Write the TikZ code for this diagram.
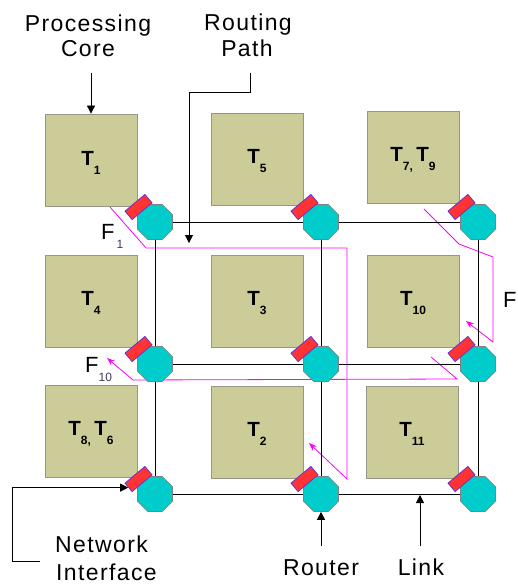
\documentclass[tikz,border=0pt]{standalone}
\usepackage{fontspec}
\setmainfont{Liberation Sans}
\newfontfamily\lblfont{Liberation Sans}[LetterSpace=6]
\usetikzlibrary{shapes.geometric,arrows.meta}
\definecolor{corefill}{RGB}{204,204,153}
\definecolor{coreline}{RGB}{150,150,135}
\definecolor{rtfill}{RGB}{0,204,204}
\definecolor{rtline}{RGB}{128,128,128}
\definecolor{nifill}{RGB}{255,51,51}
\definecolor{niline}{RGB}{102,51,204}
\definecolor{flow}{RGB}{255,0,255}
\definecolor{subcol}{RGB}{60,60,90}
\newcommand{\Tsub}[1]{\raisebox{-9pt}{\fontsize{12}{12}\selectfont\bfseries #1}}
\newcommand{\Fsub}[1]{\raisebox{-9pt}{\fontsize{12}{12}\selectfont\color{subcol}#1}}
\begin{document}
\begin{tikzpicture}[x=1pt,y=-1pt,
  core/.style={draw=coreline, fill=corefill, minimum width=92pt, minimum height=92pt, inner sep=0pt, line width=0.8pt},
  tl/.style={anchor=base, inner sep=0pt, font=\fontsize{20.5}{20}\selectfont\bfseries},
  router/.style={regular polygon, regular polygon sides=8, shape border rotate=0, minimum size=37.9pt, inner sep=0pt, fill=rtfill, draw=rtline, line width=0.6pt},
  ni/.style={draw=niline, fill=nifill, minimum width=26pt, minimum height=11pt, inner sep=0pt, rotate=40, line width=0.8pt},
  link/.style={black, line width=0.8pt},
  flowarrow/.style={flow, line width=0.8pt, -{Stealth[length=8pt,width=6pt]}},
  lbl/.style={inner sep=0pt, font=\lblfont\fontsize{23}{25}\selectfont},
  flbl/.style={anchor=base west, inner sep=0pt, font=\fontsize{22}{22}\selectfont},
  ptr/.style={black, line width=0.8pt, -{Triangle[length=8pt,width=8pt]}}
]
\useasboundingbox (0,0) rectangle (517,585);

% flow paths (behind everything)
\coordinate (f1a) at (110,207);
\coordinate (f1b) at (146,248);
\coordinate (f1c) at (347,248);
\coordinate (f1d) at (347,479);
\coordinate (f1e) at (309,443);
\draw[flowarrow] (f1a) -- (f1b) -- (f1c) -- (f1d) -- (f1e);
\coordinate (f10a) at (431,357);
\coordinate (f10b) at (457,379);
\coordinate (f10c) at (133,380);
\coordinate (f10d) at (107,358);
\draw[flowarrow] (f10a) -- (f10b) -- (f10c) -- (f10d);
\coordinate (fa) at (424,209);
\coordinate (fb) at (459,244);
\coordinate (fc) at (493,257);
\coordinate (fd) at (493,342);
\coordinate (fe) at (466,321);
\draw[flowarrow] (fa) -- (fb) -- (fc) -- (fd) -- (fe);

% cores
\node[core] (c11) at (91,160) {};
\node[core] (c12) at (257,159) {};
\node[core] (c13) at (413,157) {};
\node[core] (c21) at (91,301.5) {};
\node[core] (c22) at (257,301.5) {};
\node[core] (c23) at (413,301) {};
\node[core] (c31) at (91,431.5) {};
\node[core] (c32) at (257,432) {};
\node[core] (c33) at (412,432) {};

\node[tl] (t11) at ([yshift=-6pt]c11.center) {T\Tsub{1}};
\node[tl] (t12) at ([yshift=-5pt]c12.center) {T\Tsub{5}};
\node[tl] (t13) at ([yshift=-5pt]c13.center) {T\Tsub{7,}\,T\Tsub{9}};
\node[tl] (t21) at ([yshift=-4pt]c21.center) {T\Tsub{4}};
\node[tl] (t22) at ([yshift=-4pt]c22.center) {T\Tsub{3}};
\node[tl] (t23) at ([yshift=-4pt]c23.center) {T\Tsub{10}};
\node[tl] (t31) at ([yshift=-4pt]c31.center) {T\Tsub{8,}\,T\Tsub{6}};
\node[tl] (t32) at ([yshift=-4pt]c32.center) {T\Tsub{2}};
\node[tl] (t33) at ([yshift=-4pt]c33.center) {T\Tsub{11}};

% routers
\node[router] (r11) at (155,222) {};
\node[router] (r12) at (321,222) {};
\node[router] (r13) at (478,222) {};
\node[router] (r21) at (155,364) {};
\node[router] (r22) at (321,364) {};
\node[router] (r23) at (478,364) {};
\node[router] (r31) at (155,494) {};
\node[router] (r32) at (321,494) {};
\node[router] (r33) at (478,494) {};

% links
\draw[link] (r11) -- (r12);
\draw[link] (r12) -- (r13);
\draw[link] (r21) -- (r22);
\draw[link] (r22) -- (r23);
\draw[link] (r31) -- (r32);
\draw[link] (r32) -- (r33);
\draw[link] (r11) -- (r21);
\draw[link] (r21) -- (r31);
\draw[link] (r12) -- (r22);
\draw[link] (r22) -- (r32);
\draw[link] (r13) -- (r23);
\draw[link] (r23) -- (r33);

% network interfaces
\foreach \r in {11,12,13,21,22,23,31,32,33}
  \node[ni] (n\r) at ([xshift=-16.5pt,yshift=15pt]r\r.center) {};

% flow labels
\node[flbl] (lf1) at (101,239) {F\hspace{2pt}\Fsub{1}};
\node[flbl] (lf10) at (85,372) {F\Fsub{10}};
\node[flbl] (lf) at (503,307) {F};

% annotation labels
\node[lbl, anchor=base] (pc1) at (88,32) {Processing};
\node[lbl, anchor=base] (pc2) at (88,57) {Core};
\node[lbl, anchor=base] (rp1) at (248,31) {Routing};
\node[lbl, anchor=base] (rp2) at (247,57) {Path};
\node[lbl, anchor=base west] (nw1) at (55,552) {Network};
\node[lbl, anchor=base west] (nw2) at (56,580) {Interface};
\node[lbl, anchor=base] (ro) at (321,575) {Router};
\node[lbl, anchor=base] (lk) at (421,575) {Link};

% annotation arrows
\coordinate (pca) at (91,73);
\draw[ptr] (pca) -- (c11.north);
\coordinate (rpa) at (250,73);
\coordinate (rpb) at (189,243);
\draw[ptr] (rpa) -- ++(0,19) -| (rpb);
\coordinate (nia) at (40,561);
\draw[ptr] (nia) -- ++(-28,0) |- (n31.west);
\coordinate (roa) at (321,546);
\draw[ptr] (roa) -- (r32.south);
\coordinate (lka) at (420,546);
\coordinate (lkb) at (420,495);
\draw[ptr] (lka) -- (lkb);
\end{tikzpicture}
\end{document}
